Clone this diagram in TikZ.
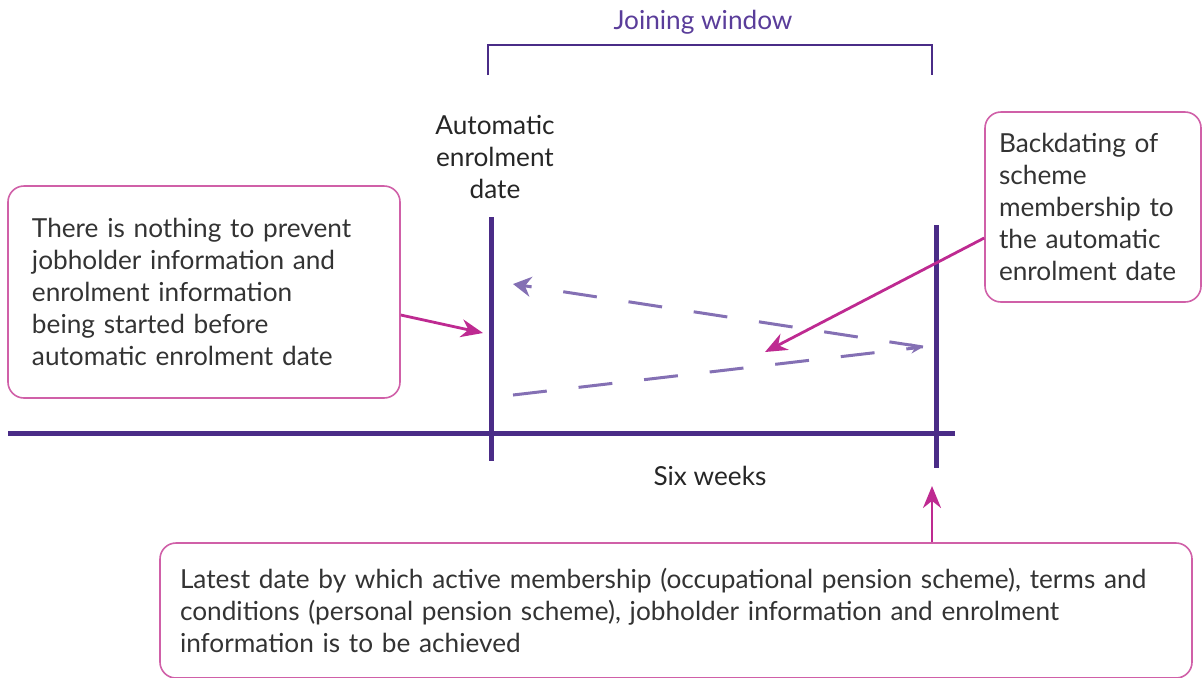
\documentclass[tikz,border=0pt]{standalone}
\usepackage{fontspec}
\setmainfont{Lato}
\usetikzlibrary{arrows.meta}
\definecolor{deeppurple}{HTML}{4A2C87}
\definecolor{titlepurple}{HTML}{5A3D9A}
\definecolor{magentaarrow}{HTML}{BE2A91}
\definecolor{boxmagenta}{HTML}{D060A8}
\definecolor{lavender}{HTML}{8470B4}
\definecolor{bodytext}{HTML}{333333}
\begin{document}
\begin{tikzpicture}[x=0.5pt,y=-0.5pt,
  timeline/.style={draw=deeppurple,line width=2.5pt},
  bracketline/.style={draw=deeppurple,line width=0.75pt},
  notebox/.style={draw=boxmagenta,line width=0.8pt,rounded corners=8pt,
    text=bodytext,align=left,font=\fontsize{13.1}{16}\selectfont,inner sep=0pt},
  label/.style={text=black!85,font=\fontsize{13.1}{16}\selectfont,align=center,inner sep=0pt},
  pointer/.style={draw=magentaarrow,line width=1.4pt,-{Stealth[length=11pt,width=9pt]}},
  dashline/.style={draw=lavender,line width=1.5pt,dash pattern=on 17pt off 16pt}
]
\useasboundingbox (0,0) rectangle (1202,677);

% timeline
\coordinate (tlL) at (8,433);
\coordinate (tlR) at (955,433);
\draw[timeline] (tlL) -- (tlR);
\coordinate (vlT) at (491,217);
\coordinate (vlB) at (491,461);
\draw[timeline] (vlT) -- (vlB);
\coordinate (vrT) at (936,225);
\coordinate (vrB) at (936,468);
\draw[timeline] (vrT) -- (vrB);

% bracket
\coordinate (brL) at (488,75);
\coordinate (brR) at (932,75);
\draw[bracketline] (brL) -- (488,45) -- (932,45) -- (brR);
\node[label,text=titlepurple] (jw) at (703,22) {Joining window};

% labels
\node[label] (aed) at (495,157) {Automatic\\enrolment\\date};
\node[label] (six) at (710,476) {Six weeks};

% boxes
\node[notebox,minimum width=196pt,minimum height=106pt,text width=172pt] (leftbox) at (204,292)
  {There is nothing to prevent\\jobholder information and\\enrolment information\\being started before\\automatic enrolment date};
\node[notebox,minimum width=108pt,minimum height=95pt,text width=94pt] (rightbox) at (1093,207)
  {Backdating of\\scheme\\membership to\\the automatic\\enrolment date};
\node[notebox,minimum width=516pt,minimum height=67.5pt,text width=496pt] (bottombox) at (676,610.5)
  {Latest date by which active membership (occupational pension scheme), terms and\\conditions (personal pension scheme), jobholder information and enrolment\\information is to be achieved};

% dashed arrows
\coordinate (dTip) at (923,347);
\coordinate (dUp) at (513,284);
\coordinate (dLow) at (513,395);
\draw[dashline,-{Stealth[length=9pt,width=10pt]}] (dTip) -- (dUp);
\draw[dashline,-{Stealth[length=6pt,width=5pt]}] (dLow) -- (dTip);

% pointers
\coordinate (pL) at (483,333);
\draw[pointer] (leftbox.east |- 0,315) -- (pL);
\coordinate (pR) at (765,352);
\draw[pointer] (rightbox.west |- 0,238) -- (pR);
\coordinate (pB) at (932,486);
\draw[pointer] (bottombox.north -| pB) -- (pB);
\end{tikzpicture}
\end{document}
